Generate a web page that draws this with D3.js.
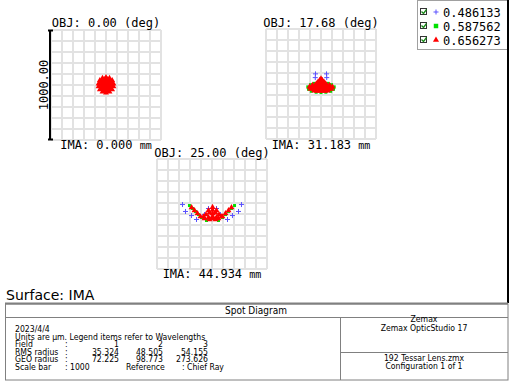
<!DOCTYPE html>
<html>
<head>
<meta charset="utf-8">
<script src="https://cdn.jsdelivr.net/npm/d3@7"></script>
<style>
  body { margin: 0; background: #fff; }
  .lbl { font-family: "DejaVu Sans Mono", monospace; font-size: 12px; fill: #000; }
  .tbl { font-family: "DejaVu Sans Condensed", "DejaVu Sans", sans-serif; font-stretch: condensed; font-size: 8.6px; fill: #000; }
</style>
</head>
<body>
<div id="chart"></div>
<script>
var svgWidth = 516;
var svgHeight = 391;

// field labels
var objLabels = ["OBJ: 0.00 (deg)", "OBJ: 17.68 (deg)", "OBJ: 25.00 (deg)"];
var imaLabels = ["IMA: 0.000", "IMA: 31.183", "IMA: 44.934"];
var wavelengths = ["0.486133", "0.587562", "0.656273"];
var colors = ["#5a50ff", "#00e000", "#ff0000"];

// spot points in micrometres, relative to chief ray (x, y up)
var f1Blue = [[0, 0], [20, 10], [-20, 10], [0, -20]];
var f1Green = [[-20, 15], [25, 15], [0, -25]];
var f1Red = [[0, 0], [18, 0], [-18, 0], [0, 18], [0, -18],
  [35, 0], [25, 25], [0, 35], [-25, 25], [-35, 0], [-25, -25], [0, -35], [25, -25],
  [55, 0], [44, 32], [17, 52], [-17, 52], [-44, 32], [-55, 0], [-44, -32], [-17, -52], [17, -52], [44, -32],
  [68, 12], [56, 42], [32, 62], [0, 70], [-32, 62], [-56, 42], [-68, 12], [-68, -14], [-56, -42], [-32, -62], [0, -70], [32, -62], [56, -42], [68, -14]];

var f2Blue = [[-50, 92], [-52, 58], [50, 92], [52, 58]];
var f2Green = [[-120, -26], [120, -26], [-114, -48], [114, -48], [-88, -66], [88, -66],
  [-44, -75], [0, -78], [44, -75], [-95, -6], [95, -6], [-62, 6], [62, 6]];
var f2Red = [[0, 48], [-12, 34], [12, 34], [0, 30], [-27, 18], [27, 18], [0, 14],
  [-42, 4], [-20, 2], [20, 2], [42, 4],
  [-78, -10], [-55, -12], [-30, -12], [0, -12], [30, -12], [55, -12], [78, -10],
  [-105, -27], [-80, -28], [-55, -30], [-28, -30], [0, -30], [28, -30], [55, -30], [80, -28], [105, -27],
  [-95, -45], [-70, -46], [-45, -48], [-18, -48], [18, -48], [45, -48], [70, -46], [95, -45],
  [-62, -62], [-38, -64], [-12, -64], [12, -64], [38, -64], [62, -62]];

var f3Blue = [[-268, 86], [-241, 23], [-186, -14], [-141, -50], [268, 86], [241, 23], [186, -14], [141, -50],
  [-68, -5], [-32, 50], [41, 50], [77, -5]];
var f3Green = [[-205, 77], [-177, 50], [-150, 23], [-123, -5], [-95, -32],
  [205, 77], [177, 50], [150, 23], [123, -5], [95, -32], [-50, -59], [59, -59]];
var f3Red = [[-186, 59], [-159, 32], [-132, 5], [-105, -23], [-68, -41],
  [177, 59], [150, 32], [123, 5], [95, -23], [59, -41],
  [5, 62], [5, 36], [5, 5], [-32, 32], [41, 32], [-55, -5], [64, -5], [-23, 10], [32, 10],
  [-32, -32], [41, -32], [5, -41], [-77, -23], [86, -23], [-23, -50], [32, -50], [5, -20]];

var fieldPoints = [[f1Blue, f1Green, f1Red], [f2Blue, f2Green, f2Red], [f3Blue, f3Green, f3Red]];

// table text
var infoLines = ["2023/4/4", "Units are \u00b5m. Legend items refer to Wavelengths"];
var fieldNums = ["1", "2", "3"];
var rmsRadius = ["35.324", "48.505", "54.155"];
var geoRadius = ["72.225", "98.773", "273.626"];

var svg = d3.select("#chart")
  .append("svg")
  .attr("width", svgWidth)
  .attr("height", svgHeight);

// where each spot box sits
var boxes = [{ x: 51, y: 30 }, { x: 266, y: 29 }, { x: 157, y: 159 }];
var boxSize = 110;
var labelY = [[27, 149], [27, 149], [157, 278]];

var plusPath = "M-2.5,0H2.5M0,-2.5V2.5";
var squareSym = d3.symbol().type(d3.symbolSquare).size(9);
var triSym = d3.symbol().type(d3.symbolTriangle).size(15);

boxes.forEach(function(b, i) {
  var x = d3.scaleLinear().domain([-500, 500]).range([b.x, b.x + boxSize]);
  var y = d3.scaleLinear().domain([-500, 500]).range([b.y + boxSize, b.y]);
  var g = svg.append("g");

  // grid
  g.selectAll(".vx").data(x.ticks(10)).enter().append("line")
    .attr("x1", function(d) { return x(d); }).attr("x2", function(d) { return x(d); })
    .attr("y1", b.y).attr("y2", b.y + boxSize)
    .attr("stroke", "#e2e2e2").attr("stroke-width", 2);
  g.selectAll(".hy").data(y.ticks(10)).enter().append("line")
    .attr("y1", function(d) { return y(d); }).attr("y2", function(d) { return y(d); })
    .attr("x1", b.x).attr("x2", b.x + boxSize)
    .attr("stroke", "#e2e2e2").attr("stroke-width", 2);

  var pts = fieldPoints[i];
  // blue pluses
  g.selectAll(".pb").data(pts[0]).enter().append("path")
    .attr("d", plusPath)
    .attr("transform", function(d) { return "translate(" + x(d[0]) + "," + y(d[1]) + ")"; })
    .attr("stroke", colors[0]).attr("stroke-width", 1).attr("fill", "none");
  // green squares
  g.selectAll(".pg").data(pts[1]).enter().append("path")
    .attr("d", squareSym)
    .attr("transform", function(d) { return "translate(" + x(d[0]) + "," + y(d[1]) + ")"; })
    .attr("fill", colors[1]);
  // red triangles
  g.selectAll(".pr").data(pts[2]).enter().append("path")
    .attr("d", triSym)
    .attr("transform", function(d) { return "translate(" + x(d[0]) + "," + y(d[1]) + ")"; })
    .attr("fill", colors[2]);

  var cx = b.x + boxSize / 2;
  g.append("text").attr("class", "lbl")
    .attr("x", cx).attr("y", labelY[i][0])
    .attr("text-anchor", "middle")
    .text(objLabels[i]);
  var ima = g.append("text").attr("class", "lbl")
    .attr("x", cx).attr("y", labelY[i][1])
    .attr("text-anchor", "middle");
  ima.append("tspan").text(imaLabels[i] + " ");
  ima.append("tspan").style("font-size", "10px").text("mm");
});

// scale bar on first box
svg.append("path")
  .attr("d", "M48,30.5H53M50,30.5V139.5M48,139.5H53")
  .attr("stroke", "#000").attr("stroke-width", 2).attr("fill", "none");
svg.append("text").attr("class", "lbl")
  .attr("transform", "translate(48,85) rotate(-90)")
  .attr("text-anchor", "middle")
  .text("1000.00");

// legend
svg.append("rect")
  .attr("x", 417.5).attr("y", 0.5).attr("width", 90).attr("height", 49)
  .attr("fill", "#fff").attr("stroke", "#a0a0a0");
wavelengths.forEach(function(w, i) {
  var cy = 12 + i * 14;
  svg.append("rect")
    .attr("x", 420.5).attr("y", cy - 3.5).attr("width", 6).attr("height", 6)
    .attr("fill", "#fff").attr("stroke", "#333");
  svg.append("path")
    .attr("d", "M421.5," + (cy - 0.5) + "l2,2l3,-4")
    .attr("stroke", "#1a8a1a").attr("stroke-width", 1.3).attr("fill", "none");
  var m = svg.append("path").attr("transform", "translate(436," + cy + ")");
  if (i === 0) m.attr("d", plusPath).attr("stroke", colors[0]).attr("fill", "none");
  if (i === 1) m.attr("d", d3.symbol().type(d3.symbolSquare).size(20)).attr("fill", colors[1]);
  if (i === 2) m.attr("d", d3.symbol().type(d3.symbolTriangle).size(16)).attr("fill", colors[2]);
  svg.append("text").attr("class", "lbl")
    .attr("x", 443).attr("y", cy + 4.5)
    .text(w);
});

// black edge on the right
svg.append("line")
  .attr("x1", 508).attr("x2", 508).attr("y1", 0).attr("y2", 303)
  .attr("stroke", "#000").attr("stroke-width", 2);

svg.append("text")
  .attr("x", 6).attr("y", 300)
  .style("font-family", "DejaVu Sans, sans-serif").style("font-size", "14px")
  .text("Surface: IMA");

// info table
var t = svg.append("g");
t.append("rect").attr("x", 5.5).attr("y", 304).attr("width", 502.5).attr("height", 76)
  .attr("fill", "none").attr("stroke", "#808080");
t.append("line").attr("x1", 5).attr("x2", 508).attr("y1", 303.5).attr("y2", 303.5)
  .attr("stroke", "#808080").attr("stroke-width", 2);
t.append("line").attr("x1", 5).attr("x2", 508).attr("y1", 317.5).attr("y2", 317.5)
  .attr("stroke", "#808080");
t.append("line").attr("x1", 340.5).attr("x2", 340.5).attr("y1", 317.5).attr("y2", 380)
  .attr("stroke", "#808080");
t.append("line").attr("x1", 340.5).attr("x2", 508).attr("y1", 352.5).attr("y2", 352.5)
  .attr("stroke", "#808080");

t.append("text").attr("class", "tbl").attr("x", 256).attr("y", 314)
  .attr("text-anchor", "middle").style("font-size", "10px").text("Spot Diagram");

infoLines.forEach(function(s, i) {
  t.append("text").attr("class", "tbl").attr("x", 15).attr("y", 332 + i * 7.5).text(s);
});
var rowY = [347, 354.5, 362, 369.5];
var rowNames = ["Field", "RMS radius", "GEO radius", "Scale bar"];
rowNames.forEach(function(s, i) {
  t.append("text").attr("class", "tbl").attr("x", 15).attr("y", rowY[i]).text(s);
  t.append("text").attr("class", "tbl").attr("x", 65).attr("y", rowY[i]).text(":");
});
var colX = [119, 163, 208];
[fieldNums, rmsRadius, geoRadius].forEach(function(row, r) {
  row.forEach(function(v, j) {
    t.append("text").attr("class", "tbl")
      .attr("x", colX[j]).attr("y", rowY[r])
      .attr("text-anchor", "end").text(v);
  });
});
t.append("text").attr("class", "tbl").attr("x", 70).attr("y", rowY[3]).text("1000");
t.append("text").attr("class", "tbl").attr("x", 126).attr("y", rowY[3]).text("Reference");
t.append("text").attr("class", "tbl").attr("x", 182).attr("y", rowY[3]).text(": Chief Ray");

var rightLines = [["Zemax", 322], ["Zemax OpticStudio 17", 331], ["192 Tessar Lens.zmx", 361], ["Configuration 1 of 1", 368.5]];
rightLines.forEach(function(r) {
  t.append("text").attr("class", "tbl")
    .attr("x", 424).attr("y", r[1])
    .attr("text-anchor", "middle").text(r[0]);
});
</script>
</body>
</html>
